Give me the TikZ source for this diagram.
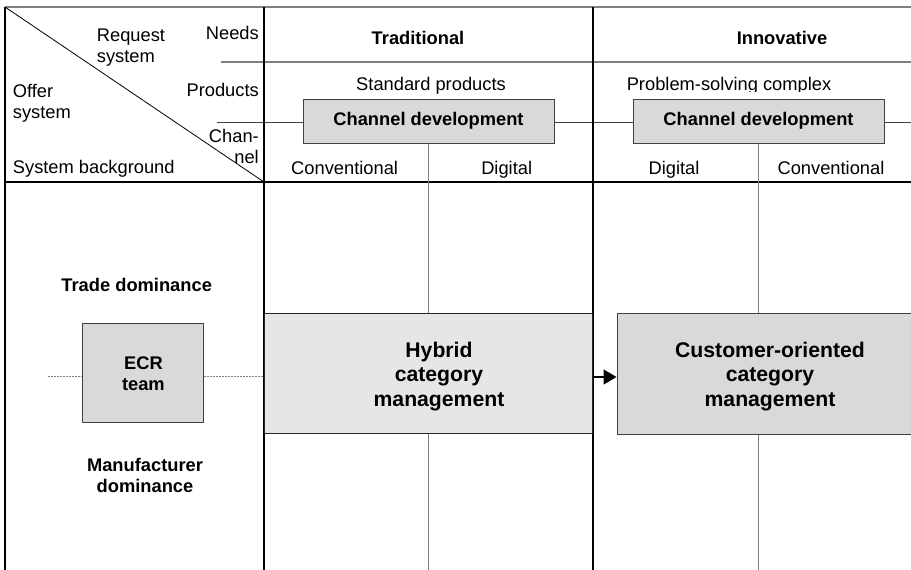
\documentclass[tikz,border=0pt]{standalone}
\usepackage{fontspec}
\setmainfont{Liberation Sans}
\usetikzlibrary{arrows.meta}
\definecolor{boxgray}{HTML}{D9D9D9}
\definecolor{lightbox}{HTML}{E6E6E6}
\definecolor{rulegray}{HTML}{808080}
\definecolor{edgegray}{HTML}{404040}
\tikzset{
  txt/.style={font=\fontsize{18.3}{21}\selectfont, inner sep=0pt},
  bld/.style={font=\fontsize{18.3}{25}\selectfont\bfseries, inner sep=0pt, align=center},
  bldtight/.style={font=\fontsize{18.3}{21}\selectfont\bfseries, inner sep=0pt, align=center},
  bldbig/.style={font=\fontsize{21.2}{24.7}\selectfont\bfseries, inner sep=0pt, align=center},
  mainrule/.style={draw=black, line width=1.6pt},
  subrule/.style={draw=rulegray, line width=1.8pt},
  thinrule/.style={draw=edgegray, line width=0.9pt},
  chanbox/.style={draw=edgegray, fill=boxgray, line width=1pt, inner sep=0pt,
    minimum width=251pt, minimum height=44pt,
    font=\fontsize{18.3}{21}\selectfont\bfseries},
  hybbox/.style={draw=black!85, fill=lightbox, line width=1pt, inner sep=0pt,
    minimum width=328pt, minimum height=120pt},
  custbox/.style={draw=edgegray, fill=boxgray, line width=1pt, inner sep=0pt,
    minimum width=306pt, minimum height=121pt},
  ecrbox/.style={draw=edgegray, fill=boxgray, line width=1pt, inner sep=0pt,
    minimum width=121pt, minimum height=99pt},
  dotline/.style={draw=rulegray, line width=1pt, dash pattern=on 1.5pt off 1.5pt},
  flow/.style={draw=black, line width=1.3pt, -{Triangle[length=13pt,width=15pt]}}
}
\begin{document}
\begin{tikzpicture}[x=1pt,y=-1pt]
\useasboundingbox (0,0) rectangle (911,570);
\clip (0,0) rectangle (911,570);

% frame and header rules
\draw[draw=rulegray, line width=1.3pt] (5,7) -- (911,7);
\draw[mainrule] (5,7) -- (5,570);
\draw[subrule] (221,62) -- (911,62);
\draw[thinrule] (217,122) -- (911,122);
\draw[mainrule] (5,182) -- (911,182);
\draw[draw=black, line width=0.8pt] (5,7) -- (264,182);
\draw[mainrule] (264,7) -- (264,570);
\draw[mainrule] (593,7) -- (593,570);

% channel development boxes and their branches
\node[chanbox] (cd1) at (428.5,121) {Channel development};
\node[chanbox] (cd2) at (758.5,121) {Channel development};
\coordinate (b1) at (428.5,570);
\coordinate (b2) at (758.5,570);
\draw[subrule] (cd1.south) -- (b1);
\draw[subrule] (cd2.south) -- (b2);

% column headings
\node[bld, anchor=base] (trad) at (418,45) {Traditional};
\node[bld, anchor=base] (innov) at (782,45) {Innovative};
\node[txt, anchor=base] (std) at (431,90.5) {Standard products};
\begin{scope}
  \clip (600,60) rectangle (911,91);
  \node[txt, anchor=base] (psc) at (729,90.5) {Problem-solving complex};
\end{scope}
\node[txt, anchor=base] (conv1) at (344.6,174) {Conventional};
\node[txt, anchor=base] (dig1) at (506.7,174) {Digital};
\node[txt, anchor=base] (dig2) at (674,174) {Digital};
\node[txt, anchor=base] (conv2) at (831,174) {Conventional};

% corner cell (multi-line nodes are placed by the baseline of their last line)
\node[txt, anchor=base west, align=left] (req) at (96.7,62.3) {Request\\system};
\node[txt, anchor=base east] (needs) at (259,39.3) {Needs};
\node[txt, anchor=base east] (prod) at (259,96.7) {Products};
\node[txt, anchor=base west, align=left] (offer) at (12.7,118.3) {Offer\\system};
\node[txt, anchor=base east, align=right] (chan) at (259,163.3) {Chan-\\nel};
\node[txt, anchor=base west] (sysbg) at (12.7,173.3) {System background};

% body
\node[bld, anchor=base] (trade) at (136.7,291.7) {Trade dominance};
\node[bldtight, anchor=base] (manu) at (145,492.7) {Manufacturer\\dominance};

\node[ecrbox] (ecr) at (143.4,373.4) {};
\node[bldtight, anchor=base] (ecrt) at (143.4,390) {ECR\\team};

\node[hybbox] (hyb) at (428,373) {};
\node[bldbig, anchor=base] (hybt) at (439,406.5) {Hybrid\\category\\management};

\node[custbox] (cust) at (770,373.5) {};
\node[bldbig, anchor=base] (custt) at (770,406.5) {Customer-oriented\\category\\management};

% connectors
\coordinate (dl) at (48,376.7);
\draw[dotline] (dl) -- ([yshift=-3.3pt]ecr.west);
\draw[dotline] ([yshift=-3.3pt]ecr.east) -- ([yshift=-3.7pt]hyb.west);
\draw[flow] ([yshift=-4pt]hyb.east) -- ([yshift=-3.5pt]cust.west);
\end{tikzpicture}
\end{document}
